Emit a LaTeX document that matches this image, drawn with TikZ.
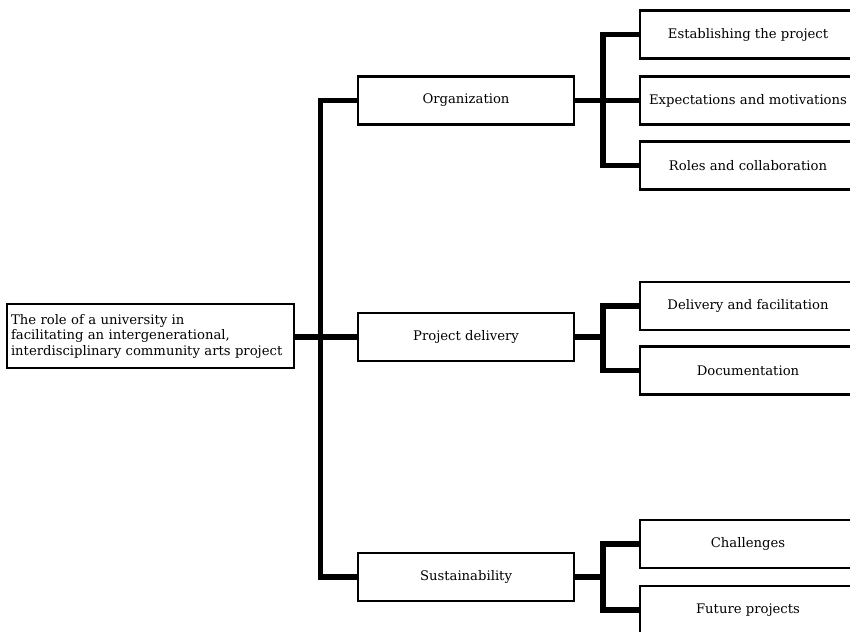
\documentclass[tikz,border=0pt]{standalone}
\usepackage{fontspec}
\setmainfont{DejaVu Serif}
\begin{document}
\begin{tikzpicture}[x=1pt,y=-1pt]
% Styles
\tikzstyle{lien}=[line width=5.5pt]
\tikzstyle{boite}=[draw,line width=2.2pt,fill=white,minimum width=216pt,minimum height=48pt,inner sep=0pt,font=\fontsize{13.2}{15.5}\selectfont]
\tikzstyle{racine}=[boite,minimum width=287pt,minimum height=64pt,text width=279pt,align=left,inner sep=4pt]
% Dimensions
\def\ColonneA{150.5}
\def\ColonneB{466}
\def\ColonneC{748}
\def\Tronc{320.5}
\def\SousTronc{603}
% Cadre
\useasboundingbox (0,0) rectangle (850,631);
% Noeuds
\node[racine] (R) at (\ColonneA,336) {The role of a university in\\facilitating an intergenerational,\\interdisciplinary community arts project};
\node[boite] (Ra) at (\ColonneB,100.5) {Organization};
\node[boite] (Rb) at (\ColonneB,337) {Project delivery};
\node[boite] (Rc) at (\ColonneB,577) {Sustainability};
\node[boite] (Raa) at (\ColonneC,34.5) {Establishing the project};
\node[boite] (Rab) at (\ColonneC,100.5) {Expectations and motivations};
\node[boite] (Rac) at (\ColonneC,165.5) {Roles and collaboration};
\node[boite] (Rba) at (\ColonneC,306) {Delivery and facilitation};
\node[boite] (Rbb) at (\ColonneC,370.5) {Documentation};
\node[boite] (Rca) at (\ColonneC,544) {Challenges};
\node[boite] (Rcb) at (\ColonneC,610) {Future projects};
% Jonctions
\coordinate (J) at (\Tronc,337);
\coordinate (Jb) at (\SousTronc,337);
\coordinate (Jc) at (\SousTronc,577);
% Arcs
\draw[lien] (R.east |- Rb.west) -- (Rb.west);
\draw[lien] (Ra.west) -| (J) |- (Rc.west);
\draw[lien] (Ra.east) -- (Rab.west);
\draw[lien] (Raa.west) -| (Rab.west -| Jb) |- (Rac.west);
\draw[lien] (Rb.east) -- (Jb);
\draw[lien] (Rba.west) -| (Jb) |- (Rbb.west);
\draw[lien] (Rc.east) -- (Jc);
\draw[lien] (Rca.west) -| (Jc) |- (Rcb.west);
\end{tikzpicture}
\end{document}
